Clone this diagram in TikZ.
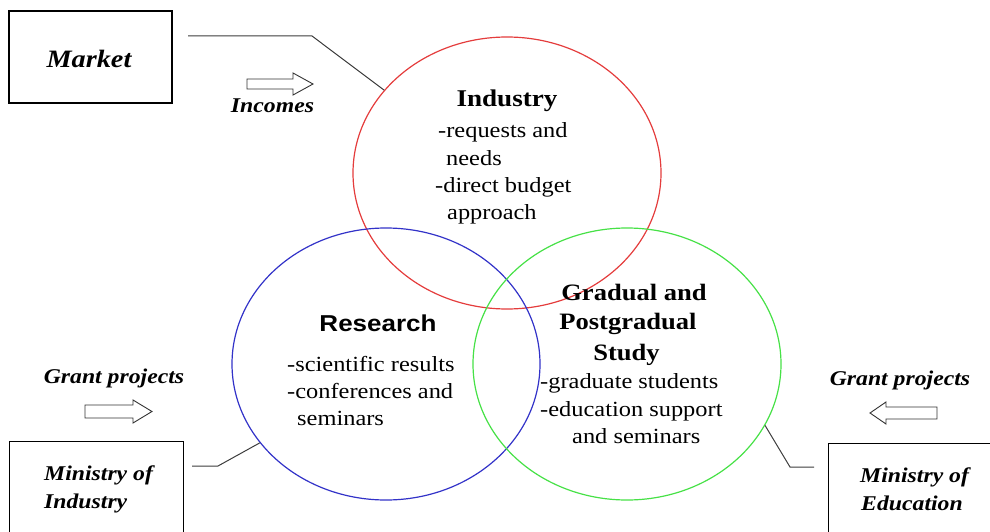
\documentclass[tikz,border=0pt]{standalone}
\usepackage{fontspec}
\setmainfont{Liberation Serif}[FakeStretch=1.13]
\newfontfamily\arialfam{Liberation Sans}[FakeStretch=1.13]
\usetikzlibrary{shapes.geometric}
\definecolor{cred}{RGB}{228,60,60}
\definecolor{cblue}{RGB}{50,50,200}
\definecolor{cgreen}{RGB}{70,225,70}
\definecolor{cline}{RGB}{60,60,60}
\tikzset{
  circ/.style={ellipse, draw, line width=1.2pt, minimum width=308, minimum height=272, inner sep=0},
  box/.style={draw, line width=1.2pt, inner sep=0},
  body/.style={font=\fontsize{21.6}{26}\selectfont, inner sep=0, anchor=base west},
  head/.style={font=\fontsize{24}{28}\selectfont\bfseries, inner sep=0, anchor=base},
  rhead/.style={font=\arialfam\fontsize{23}{28}\selectfont\bfseries, inner sep=0, anchor=base},
  lab/.style={font=\fontsize{21}{25}\selectfont\bfseries\itshape, inner sep=0},
  conn/.style={draw=cline, line width=1pt},
  blockarrow/.style={draw=black!80, line width=0.9pt, fill=white}
}
\begin{document}
\begin{tikzpicture}[x=1pt, y=-1pt]
\useasboundingbox (0,0) rectangle (990,532);
\clip (0,0) rectangle (990,532);

% circles
\node[circ, draw=cred] (ind) at (507,173) {};
\node[circ, draw=cblue] (res) at (386,364) {};
\node[circ, draw=cgreen] (stu) at (627,364) {};

% boxes
\node[box, minimum width=163, minimum height=92] (market) at (90.5,57) {};
\node[lab, font=\fontsize{25}{28}\selectfont\bfseries\itshape, anchor=base] (marketT) at (89,68) {Market};

\node[box, minimum width=174, minimum height=110, anchor=north west] (minind) at (9,441) {};
\node[lab, anchor=base west] (minindA) at (44,480) {Ministry of};
\node[lab, anchor=base west] (minindB) at (44,508) {Industry};

\node[box, minimum width=180, minimum height=110, anchor=north west] (minedu) at (828,443) {};
\node[lab, anchor=base west] (mineduA) at (860,482) {Ministry of};
\node[lab, anchor=base west] (mineduB) at (861,510) {Education};

% labels and block arrows
\node[lab, anchor=base] (incomes) at (272.5,113) {Incomes};
\draw[blockarrow] (247,79) -- (293,79) -- (293,73) -- (313,84) -- (293,95) -- (293,89) -- (247,89) -- cycle;

\node[lab, anchor=base] (grantL) at (114,383) {Grant projects};
\draw[blockarrow] (85,405) -- (133,405) -- (133,400) -- (152,411.5) -- (133,423) -- (133,418) -- (85,418) -- cycle;

\node[lab, anchor=base] (grantR) at (900,385) {Grant projects};
\draw[blockarrow] (937,407) -- (886,407) -- (886,402) -- (870,413) -- (886,424) -- (886,419) -- (937,419) -- cycle;

% connectors
\coordinate (mStart) at (188,36);
\coordinate (iStart) at (192,466);
\coordinate (eStart) at (814,467);
\draw[conn] (mStart) -- (312,36) -- (ind.146);
\draw[conn] (iStart) -- (218,466) -- (res.212.5);
\draw[conn] (eStart) -- (790,467) -- (stu.-24.4);

% Industry text
\node[head] (indH) at (507,107) {Industry};
\node[body] (indA) at (438,137) {-requests and};
\node[body] (indB) at (446,165) {needs};
\node[body] (indC) at (435,192.5) {-direct budget};
\node[body] (indD) at (447,219.5) {approach};

% Research text
\node[rhead] (resH) at (378,331.5) {Research};
\node[body] (resA) at (287,371) {-scientific results};
\node[body] (resB) at (287,398) {-conferences and};
\node[body] (resC) at (297,425) {seminars};

% Study text
\node[head, font=\fontsize{23.5}{28}\selectfont\bfseries] (stuH1) at (634,300.5) {Gradual and};
\node[head, font=\fontsize{23.5}{28}\selectfont\bfseries] (stuH2) at (628,329.5) {Postgradual};
\node[head, font=\fontsize{23.5}{28}\selectfont\bfseries] (stuH3) at (626.5,360) {Study};
\node[body] (stuA) at (540,388) {-graduate students};
\node[body] (stuB) at (540,416) {-education support};
\node[body] (stuC) at (572,443) {and seminars};
\end{tikzpicture}
\end{document}
